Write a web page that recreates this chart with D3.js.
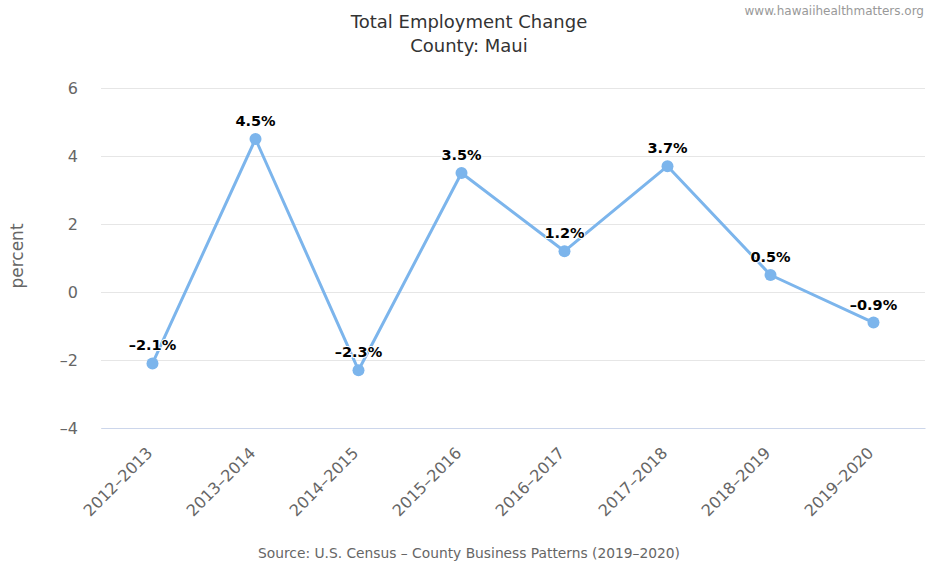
<!DOCTYPE html>
<html>
<head>
<meta charset="utf-8">
<script src="https://cdn.jsdelivr.net/npm/d3@7"></script>
<style>
  html, body { margin: 0; padding: 0; background: #fff; }
  svg { display: block; font-family: "DejaVu Sans", sans-serif; }
</style>
</head>
<body>
<svg id="chart" width="927" height="567"></svg>
<script>
// Year-over-year change in total employment, Maui County
const periods = ["2012–2013", "2013–2014", "2014–2015", "2015–2016",
                 "2016–2017", "2017–2018", "2018–2019", "2019–2020"];
const changePct = [-2.1, 4.5, -2.3, 3.5, 1.2, 3.7, 0.5, -0.9];
const yTicks = [-4, -2, 0, 2, 4, 6];

const titleLines = ["Total Employment Change", "County: Maui"];
const creditText = "www.hawaiihealthmatters.org";
const sourceText = "Source: U.S. Census – County Business Patterns (2019–2020)";
const yAxisTitle = "percent";

const svg = d3.select("#chart");
const plot = { left: 101, right: 925, top: 88, bottom: 428 };

const x = d3.scaleBand().domain(periods).range([plot.left, plot.right]);
const y = d3.scaleLinear().domain([-4, 6]).range([plot.bottom, plot.top]);
const cx = d => x(d) + x.bandwidth() / 2;
const fmtTick = v => (v < 0 ? "–" + Math.abs(v) : String(v));
const fmtLabel = v => (v < 0 ? "–" + Math.abs(v).toFixed(1) : v.toFixed(1)) + "%";

// Titles and credits
svg.selectAll("text.title").data(titleLines).join("text")
  .attr("class", "title")
  .attr("x", 469).attr("y", (d, i) => 28 + i * 24)
  .attr("text-anchor", "middle")
  .attr("font-size", 18).attr("fill", "#333")
  .text(d => d);

svg.append("text")
  .attr("x", 924).attr("y", 15)
  .attr("text-anchor", "end")
  .attr("font-size", 12).attr("fill", "#999")
  .text(creditText);

svg.append("text")
  .attr("x", 469).attr("y", 558)
  .attr("text-anchor", "middle")
  .attr("font-size", 13.8).attr("fill", "#666")
  .text(sourceText);

// Horizontal gridlines and y-axis labels
const yAxis = d3.axisLeft(y).tickValues(yTicks).tickFormat(fmtTick)
  .tickSize(-(plot.right - plot.left)).tickPadding(23);
const gy = svg.append("g").attr("transform", `translate(${plot.left},0)`).call(yAxis);
gy.select(".domain").remove();
gy.selectAll(".tick line").attr("stroke", "#e6e6e6").attr("stroke-width", 1);
gy.selectAll(".tick text").attr("font-size", 16).attr("fill", "#666")
  .attr("font-family", "DejaVu Sans, sans-serif");

svg.append("text")
  .attr("transform", "translate(23,256) rotate(-90)")
  .attr("text-anchor", "middle")
  .attr("font-size", 17).attr("fill", "#666")
  .text(yAxisTitle);

// Category axis with rotated labels
const xAxis = d3.axisBottom(x).tickSize(0).tickPadding(0);
const gx = svg.append("g").attr("transform", `translate(0,${plot.bottom})`).call(xAxis);
gx.select(".domain").attr("stroke", "#ccd6eb").attr("stroke-width", 1);
gx.selectAll(".tick text")
  .attr("font-size", 16).attr("fill", "#666")
  .attr("font-family", "DejaVu Sans, sans-serif")
  .attr("text-anchor", "end")
  .attr("dy", null)
  .attr("transform", "translate(1,26) rotate(-45)");

// Series line and markers
const line = d3.line().x((d, i) => cx(periods[i])).y(d => y(d));
svg.append("path")
  .datum(changePct)
  .attr("d", line)
  .attr("fill", "none")
  .attr("stroke", "#7cb5ec")
  .attr("stroke-width", 3)
  .attr("stroke-linejoin", "round");

svg.selectAll("circle.pt").data(changePct).join("circle")
  .attr("class", "pt")
  .attr("cx", (d, i) => cx(periods[i]))
  .attr("cy", d => y(d))
  .attr("r", 6)
  .attr("fill", "#7cb5ec");

// Value labels above each point
svg.selectAll("text.val").data(changePct).join("text")
  .attr("class", "val")
  .attr("x", (d, i) => cx(periods[i]))
  .attr("y", d => y(d) - 13)
  .attr("text-anchor", "middle")
  .attr("font-size", 14.5).attr("font-weight", "bold")
  .attr("fill", "#000")
  .attr("stroke", "#fff").attr("stroke-width", 2)
  .attr("paint-order", "stroke")
  .attr("stroke-linejoin", "round")
  .text(fmtLabel);
</script>
</body>
</html>
